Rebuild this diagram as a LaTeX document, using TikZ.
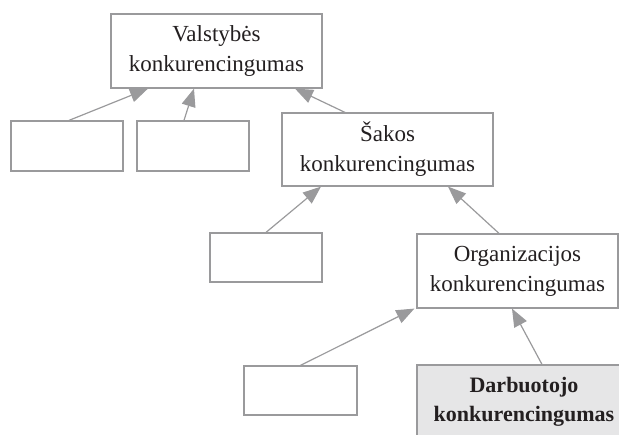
\documentclass[tikz,border=0pt]{standalone}
\usepackage{fontspec}
\setmainfont{Liberation Serif}
\usetikzlibrary{arrows.meta}
\definecolor{lineg}{HTML}{9A9A9C}
\definecolor{txt}{HTML}{231F20}
\definecolor{fillg}{HTML}{E6E6E7}
\begin{document}
\begin{tikzpicture}[x=1pt,y=-1pt,
  box/.style={draw=lineg,line width=1.2pt,text=txt,align=center,inner sep=0pt,
    font=\fontsize{23}{30}\selectfont},
  conn/.style={draw=lineg,line width=1.2pt,-{Triangle[length=18pt,width=14pt]},color=lineg}]
\useasboundingbox (0,0) rectangle (619,435);
\node[box,minimum width=211pt,minimum height=74pt] (V) at (216.5,51) {Valstybės\\konkurencingumas};
\node[box,minimum width=112pt,minimum height=50pt] (b1) at (67,146) {};
\node[box,minimum width=112pt,minimum height=50pt] (b2) at (193,146) {};
\node[box,minimum width=211pt,minimum height=73pt] (S) at (387.5,149.5) {Šakos\\konkurencingumas};
\node[box,minimum width=112pt,minimum height=49pt] (b3) at (266,257.5) {};
\node[box,minimum width=201pt,minimum height=74pt] (O) at (517.5,271) {Organizacijos\\konkurencingumas};
\node[box,minimum width=113pt,minimum height=49pt] (b4) at (300.5,390.5) {};
\node[box,fill=fillg,minimum width=214pt,minimum height=74pt,font=\fontsize{22}{29}\bfseries] (D) at (524,402) {Darbuotojo\\konkurencingumas};
\draw[conn] ([xshift=2pt]b1.north) -- ([xshift=-68.5pt]V.south);
\draw[conn] ([xshift=-9pt]b2.north) -- ([xshift=-22.5pt]V.south);
\draw[conn] ([xshift=-42.5pt]S.north) -- ([xshift=78.5pt]V.south);
\draw[conn] (b3.north) -- ([xshift=-66.5pt]S.south);
\draw[conn] ([xshift=-18.5pt]O.north) -- ([xshift=60.5pt]S.south);
\draw[conn] (b4.north) -- ([xshift=-2pt]O.south west);
\draw[conn] ([xshift=18pt]D.north) -- ([xshift=-5.5pt]O.south);
\end{tikzpicture}
\end{document}
